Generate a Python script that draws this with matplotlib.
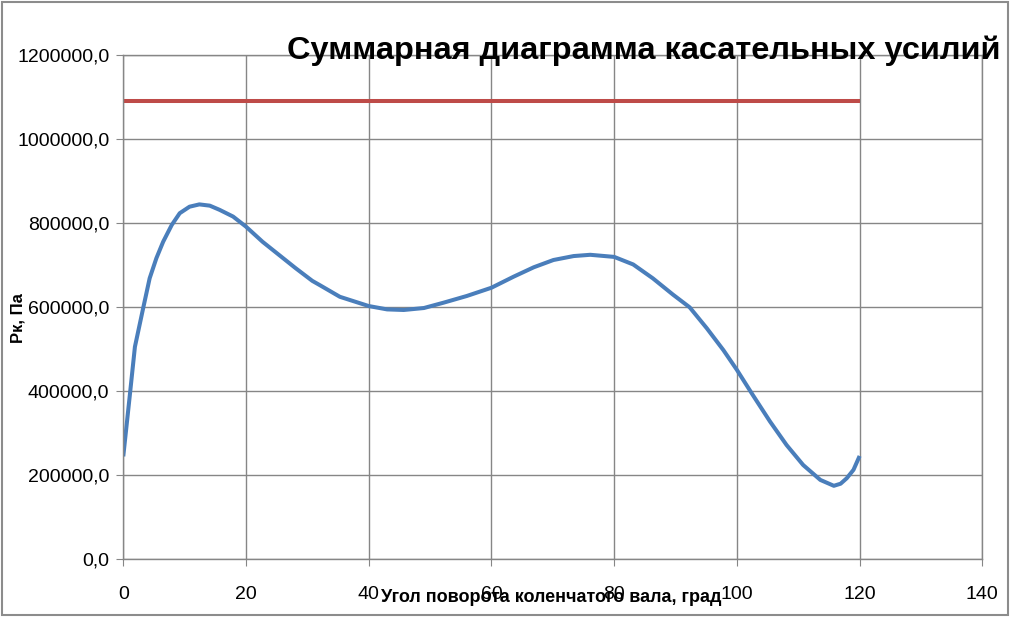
import matplotlib
matplotlib.use('Agg')
import matplotlib.pyplot as plt
from matplotlib.patches import Rectangle
from matplotlib.ticker import FuncFormatter, MultipleLocator

# суммарная кривая касательных усилий
angle = [0, 1.1, 1.9, 3.2, 4.3, 5.4, 6.5, 7.9, 9.2, 10.8, 12.4, 14.1, 15.7,
         17.9, 20, 22.7, 25.4, 28.1, 30.8, 32, 35.3, 40, 43, 45.7, 49, 52.2,
         56, 60, 63.6, 66.9, 70.1, 73.4, 76.1, 80, 83.1, 86.3, 89.6, 92.3,
         95.1, 97.8, 100, 102.6, 105.4, 108.1, 110.8, 113.6, 115.8, 116.9,
         117.9, 119, 120]
pk_sum = [245000, 395000, 506000, 595000, 669000, 717000, 756000, 796000,
          824000, 839500, 845000, 842000, 832000, 816000, 792000, 756000,
          724500, 693000, 663000, 653000, 625000, 603000, 595000, 593600,
          598300, 611000, 627000, 646600, 672800, 695300, 712600, 722000,
          725000, 720000, 702000, 669000, 630000, 600000, 550000, 498000,
          451000, 391000, 328000, 272000, 224500, 189000, 175000, 180000,
          193000, 213000, 246000]

# среднее значение
mean_angle = [0, 120]
mean_pk = [1092000, 1092000]

xticks = [0, 20, 40, 60, 80, 100, 120, 140]

plt.rcParams['font.family'] = ['Liberation Sans', 'DejaVu Sans']

grid_col = '#868686'

fig = plt.figure(figsize=(10.12, 6.17), dpi=100)
ax = fig.add_axes([0.1218, 0.0935, 0.8489, 0.8169])

ax.plot(angle, pk_sum, color='#4A7EBB', linewidth=2.9, solid_capstyle='butt',
        solid_joinstyle='round')
ax.plot(mean_angle, mean_pk, color='#BE4B48', linewidth=2.9, solid_capstyle='butt')

ax.set_xlim(0, 140)
ax.set_ylim(0, 1200000)
ax.set_xticks(xticks)
ax.yaxis.set_major_locator(MultipleLocator(200000))
ax.yaxis.set_major_formatter(FuncFormatter(lambda v, p: ('%.1f' % v).replace('.', ',')))

ax.grid(True, color=grid_col, linewidth=1.0)
ax.set_axisbelow(True)
for s in ax.spines.values():
    s.set_color(grid_col)
    s.set_linewidth(1.0)
ax.tick_params(axis='both', colors=grid_col, labelcolor='black', length=5,
               labelsize=14, direction='out')
ax.tick_params(axis='x', pad=14)
ax.tick_params(axis='y', pad=5)

fig.text(0.018, 0.485, 'Рк, Па', rotation=90, ha='center', va='center',
         fontsize=12, fontweight='bold')
fig.text(0.545, 0.024, 'Угол поворота коленчатого вала, град', ha='center',
         va='baseline', fontsize=13, fontweight='bold')
fig.text(0.636, 1 - 59 / 617, 'Суммарная диаграмма касательных усилий', ha='center',
         va='baseline', fontsize=23.4, fontweight='bold')

fig.patches.append(Rectangle((0.002, 0.004), 0.994, 0.993, transform=fig.transFigure,
                             fill=False, edgecolor='#8c8c8c', linewidth=1.5))

fig.savefig('out.png', dpi=100)
